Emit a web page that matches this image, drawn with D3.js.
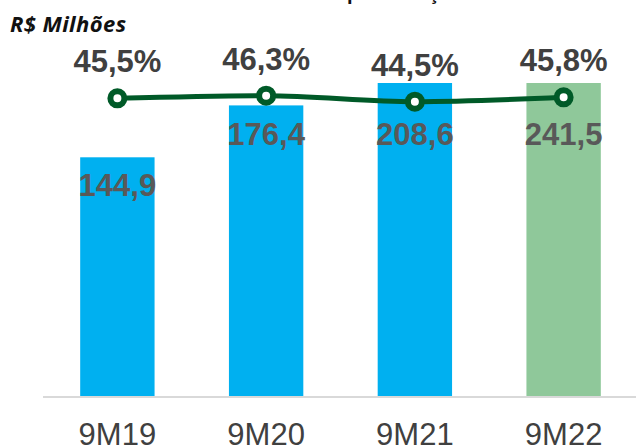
<!DOCTYPE html>
<html lang="pt">
<head>
  <meta charset="UTF-8">
  <title>Resultado</title>
  <script src="https://d3js.org/d3.v7.min.js"></script>
  <style>
    body { margin: 0; padding: 0; background: #fff; }
    svg { display: block; }
    .bar-label { font: bold 31px "Liberation Sans", Arial, sans-serif; fill: #595959; text-anchor: middle; }
    .pct-label { font: bold 31px "Liberation Sans", Arial, sans-serif; fill: #404040; text-anchor: middle; }
    .x-label { font: 31px "Liberation Sans", Arial, sans-serif; fill: #404040; text-anchor: middle; }
    .unit { font: italic bold 22px "Open Sans", sans-serif; fill: #111; letter-spacing: 0.4px; }
    .title { font: bold 20px "Liberation Sans", Arial, sans-serif; fill: #111; }
  </style>
</head>
<body>
  <script>
    const periods = ["9M19", "9M20", "9M21", "9M22"];
    const values = [144.9, 176.4, 208.6, 241.5];
    const margins = [45.5, 46.3, 44.5, 45.8];
    const barColors = ["#00B0F0", "#00B0F0", "#00B0F0", "#8FC89A"];

    const fmt = v => d3.format(".1f")(v).replace(".", ",");

    const width = 636;
    const height = 445;
    const plotTop = 83;
    const baseY = 396;

    const svg = d3.select("body")
      .append("svg")
      .attr("width", width)
      .attr("height", height);

    // title is cut by the top edge, only descenders show
    const title = svg.append("text")
      .attr("class", "title")
      .attr("y", 0)
      .text("Resultado por Atuação");
    const pIdx = title.text().indexOf("p");
    title.attr("x", 347 - title.node().getSubStringLength(0, pIdx));

    svg.append("text")
      .attr("class", "unit")
      .attr("x", 10)
      .attr("y", 32)
      .text("R$ Milhões");

    const x = d3.scaleBand()
      .domain(periods)
      .range([43, 638])
      .paddingInner(0.5)
      .paddingOuter(0.25);

    const y = d3.scaleLinear()
      .domain([0, 190])
      .range([baseY, plotTop]);

    const y2 = d3.scaleLinear()
      .domain([0, 75])
      .range([250, 0]);

    svg.append("defs").append("clipPath")
      .attr("id", "plot-clip")
      .append("rect")
      .attr("x", 0)
      .attr("y", plotTop)
      .attr("width", width)
      .attr("height", baseY - plotTop);

    const rows = periods.map((p, i) => ({ p, v: values[i], m: margins[i], c: barColors[i] }));

    // bars
    svg.append("g")
      .attr("clip-path", "url(#plot-clip)")
      .selectAll("rect")
      .data(rows)
      .join("rect")
      .attr("x", d => x(d.p))
      .attr("y", d => y(d.v))
      .attr("width", x.bandwidth())
      .attr("height", d => baseY - y(d.v))
      .attr("fill", d => d.c);

    // baseline
    svg.append("line")
      .attr("x1", x.range()[0])
      .attr("x2", width)
      .attr("y1", baseY + 1)
      .attr("y2", baseY + 1)
      .attr("stroke", "#d9d9d9")
      .attr("stroke-width", 2);

    // bar values
    svg.append("g")
      .selectAll("text")
      .data(rows)
      .join("text")
      .attr("class", "bar-label")
      .attr("x", d => x(d.p) + x.bandwidth() / 2)
      .attr("y", d => Math.max(Math.max(y(d.v), plotTop) + 39, 145))
      .text(d => fmt(d.v));

    // margin line
    const cx = d => x(d.p) + x.bandwidth() / 2;
    svg.append("path")
      .datum(rows)
      .attr("fill", "none")
      .attr("stroke", "#005A28")
      .attr("stroke-width", 5)
      .attr("d", d3.line().x(cx).y(d => y2(d.m)).curve(d3.curveMonotoneX));

    svg.append("g")
      .selectAll("circle")
      .data(rows)
      .join("circle")
      .attr("cx", cx)
      .attr("cy", d => y2(d.m))
      .attr("r", 7)
      .attr("fill", "#fff")
      .attr("stroke", "#005A28")
      .attr("stroke-width", 6);

    svg.append("g")
      .selectAll("text")
      .data(rows)
      .join("text")
      .attr("class", "pct-label")
      .attr("x", cx)
      .attr("y", d => y2(d.m) - 26)
      .text(d => fmt(d.m) + "%");

    // category labels
    svg.append("g")
      .selectAll("text")
      .data(rows)
      .join("text")
      .attr("class", "x-label")
      .attr("x", cx)
      .attr("y", 445)
      .text(d => d.p);
  </script>
</body>
</html>
